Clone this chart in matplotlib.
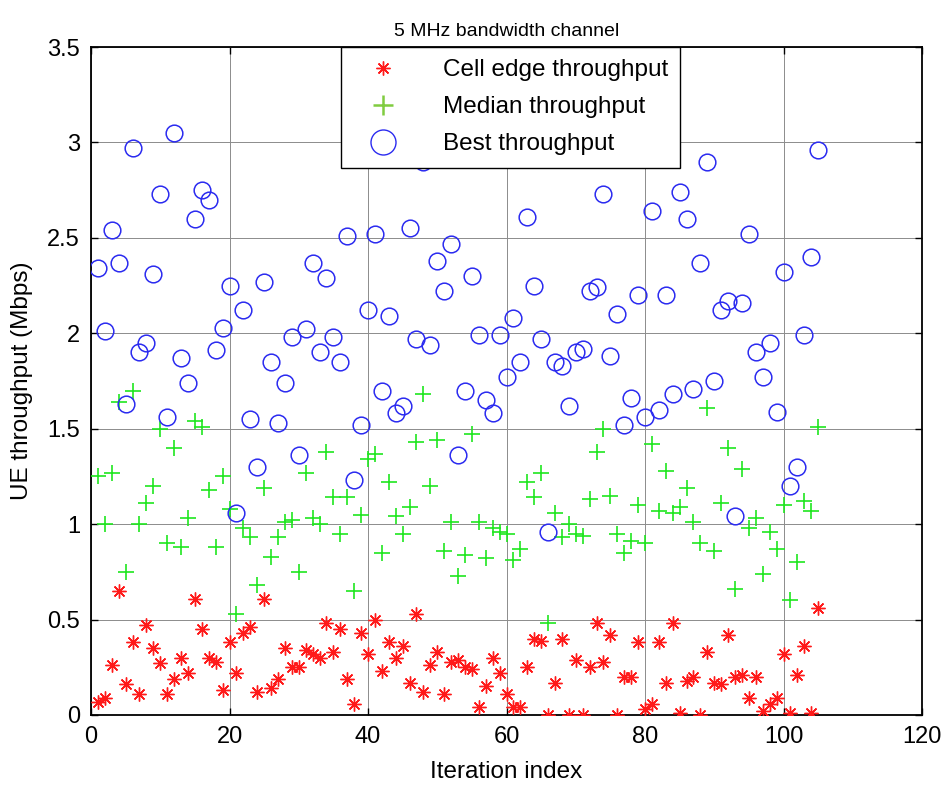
import numpy as np
import matplotlib
matplotlib.use("Agg")
import matplotlib.pyplot as plt
from matplotlib.lines import Line2D
from matplotlib.ticker import FuncFormatter, MultipleLocator

plt.rcParams['font.family'] = ['Liberation Sans', 'DejaVu Sans']

iteration = np.arange(1, 106)

cell_edge = [
    0.07, 0.09, 0.26, 0.65, 0.16, 0.38, 0.11, 0.47, 0.35, 0.27,
    0.11, 0.19, 0.30, 0.22, 0.61, 0.45, 0.30, 0.28, 0.13, 0.38,
    0.22, 0.43, 0.46, 0.12, 0.61, 0.14, 0.19, 0.35, 0.25, 0.25,
    0.34, 0.32, 0.30, 0.48, 0.33, 0.45, 0.19, 0.06, 0.43, 0.32,
    0.50, 0.23, 0.38, 0.30, 0.36, 0.17, 0.53, 0.12, 0.26, 0.33,
    0.11, 0.28, 0.29, 0.25, 0.24, 0.04, 0.15, 0.30, 0.22, 0.11,
    0.04, 0.04, 0.25, 0.40, 0.39, 0.00, 0.17, 0.40, 0.00, 0.29,
    0.00, 0.25, 0.48, 0.28, 0.42, 0.00, 0.20, 0.20, 0.38, 0.03,
    0.06, 0.38, 0.17, 0.48, 0.01, 0.18, 0.20, 0.00, 0.33, 0.17,
    0.16, 0.42, 0.20, 0.21, 0.09, 0.20, 0.02, 0.06, 0.09, 0.32,
    0.01, 0.21, 0.36, 0.01, 0.56,
]

median = [
    1.25, 1.00, 1.27, 1.64, 0.75, 1.70, 1.00, 1.11, 1.20, 1.50,
    0.90, 1.40, 0.88, 1.03, 1.54, 1.51, 1.18, 0.88, 1.25, 1.08,
    0.53, 0.98, 0.93, 0.68, 1.19, 0.83, 0.93, 1.01, 1.02, 0.75,
    1.27, 1.03, 1.00, 1.38, 1.14, 0.95, 1.14, 0.65, 1.05, 1.34,
    1.37, 0.85, 1.22, 1.04, 0.95, 1.09, 1.43, 1.68, 1.20, 1.44,
    0.86, 1.01, 0.73, 0.84, 1.47, 1.01, 0.82, 0.98, 0.96, 0.95,
    0.81, 0.87, 1.22, 1.14, 1.27, 0.48, 1.06, 0.93, 1.00, 0.95,
    0.94, 1.13, 1.38, 1.50, 1.15, 0.95, 0.85, 0.91, 1.10, 0.90,
    1.42, 1.07, 1.28, 1.06, 1.09, 1.19, 1.01, 0.90, 1.61, 0.86,
    1.11, 1.40, 0.66, 1.29, 0.98, 1.03, 0.74, 0.96, 0.87, 1.10,
    0.60, 0.80, 1.12, 1.07, 1.51,
]

best = [
    2.34, 2.01, 2.54, 2.37, 1.63, 2.97, 1.90, 1.95, 2.31, 2.73,
    1.56, 3.05, 1.87, 1.74, 2.60, 2.75, 2.70, 1.91, 2.03, 2.25,
    1.06, 2.12, 1.55, 1.30, 2.27, 1.85, 1.53, 1.74, 1.98, 1.36,
    2.02, 2.37, 1.90, 2.29, 1.98, 1.85, 2.51, 1.23, 1.52, 2.12,
    2.52, 1.70, 2.09, 1.58, 1.62, 2.55, 1.97, 2.90, 1.94, 2.38,
    2.22, 2.47, 1.36, 1.70, 2.30, 1.99, 1.65, 1.58, 1.99, 1.77,
    2.08, 1.85, 2.61, 2.25, 1.97, 0.96, 1.85, 1.83, 1.62, 1.90,
    1.92, 2.22, 2.24, 2.73, 1.88, 2.10, 1.52, 1.66, 2.20, 1.56,
    2.64, 1.60, 2.20, 1.68, 2.74, 2.60, 1.71, 2.37, 2.90, 1.75,
    2.12, 2.17, 1.04, 2.16, 2.52, 1.90, 1.77, 1.95, 1.59, 2.32,
    1.20, 1.30, 1.99, 2.40, 2.96,
]

series_labels = ['Cell edge throughput', 'Median throughput', 'Best throughput']

fig = plt.figure(figsize=(9.44, 7.85), dpi=100)
ax = fig.add_axes([0.0964, 0.0892, 0.8803, 0.8509])

asterisk = (8, 2, 0)
red = '#ff1a1a'
green = '#1fe61f'
blue = '#2b2bf0'

ax.plot(iteration, cell_edge, linestyle='none', marker=asterisk, ms=10,
        mec=red, mew=1.0, zorder=3)
ax.plot(iteration, median, linestyle='none', marker='+', ms=11,
        mec=green, mew=1.2, zorder=3)
ax.plot(iteration, best, linestyle='none', marker='o', ms=12,
        mfc='none', mec=blue, mew=1.1, zorder=3)

ax.set_xlim(0, 120)
ax.set_ylim(0, 3.5)
ax.xaxis.set_major_locator(MultipleLocator(20))
ax.yaxis.set_major_locator(MultipleLocator(0.5))
ax.yaxis.set_major_formatter(FuncFormatter(lambda v, p: f'{v:g}'))
ax.xaxis.set_major_formatter(FuncFormatter(lambda v, p: f'{v:g}'))

ax.grid(True, color='#8c8c8c', linewidth=0.7, linestyle='-')
ax.set_axisbelow(True)
ax.tick_params(direction='in', top=True, right=True, length=5, width=1,
               labelsize=17, pad=8)
for s in ax.spines.values():
    s.set_linewidth(1.3)

ax.set_xlabel('Iteration index', fontsize=17.5, labelpad=9)
ax.set_ylabel('UE throughput (Mbps)', fontsize=17.5, labelpad=10)
ax.set_title('5 MHz bandwidth channel', fontsize=14, pad=8)

handles = [
    Line2D([], [], linestyle='none', marker=asterisk, ms=10, mec=red, mew=1.0),
    Line2D([], [], linestyle='none', marker='+', ms=14, mec='#80cc40', mew=1.8),
    Line2D([], [], linestyle='none', marker='o', ms=18, mfc='none', mec=blue, mew=1.0),
]
leg = ax.legend(handles, series_labels, loc='upper center',
                bbox_to_anchor=(0.505, 1.0), borderaxespad=0.0,
                fontsize=17.5, frameon=True, fancybox=False,
                edgecolor='black', framealpha=1.0, labelspacing=0.62,
                handlelength=2.5, handletextpad=1.2, borderpad=0.5)
leg.get_frame().set_linewidth(1.0)

fig.savefig('out.png', dpi=100)
